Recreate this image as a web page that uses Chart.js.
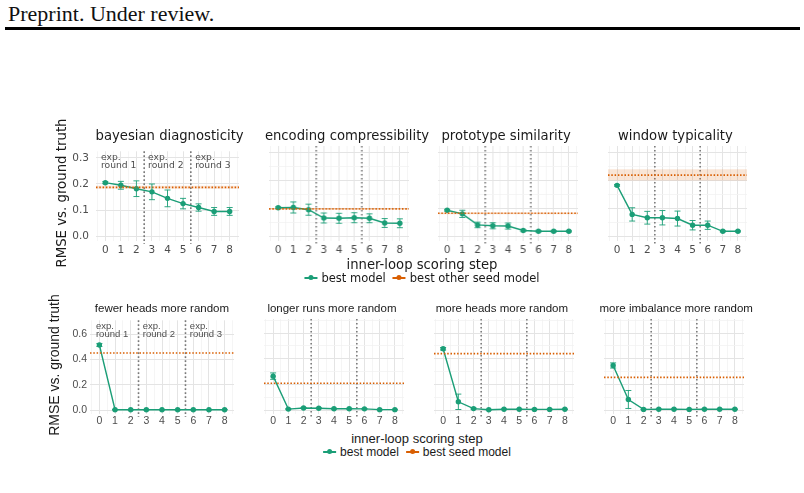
<!DOCTYPE html>
<html>
<head>
<meta charset="utf-8">
<script src="https://cdn.jsdelivr.net/npm/chart.js@4.4.1/dist/chart.umd.min.js"></script>
<style>
  body { margin: 0; background: #fff; }
  #page { position: relative; width: 804px; height: 493px; overflow: hidden; background: #fff; }
  .abs { position: absolute; white-space: nowrap; }
  .header { left: 8px; top: 1px; font: 22px "Liberation Serif", serif; color: #111; }
  .rule { position: absolute; left: 5px; top: 27px; width: 795px; height: 3px; background: #000; }
  .ptitle { text-align: center; color: #1a1a1a; }
  .ytitle { transform: translate(-50%, -50%) rotate(-90deg); color: #1a1a1a; }
  .xtitle { transform: translateX(-50%); color: #1a1a1a; }
  .legend { transform: translateX(-50%); display: flex; align-items: center; color: #1a1a1a; }
  .key { position: relative; display: inline-block; width: 13px; height: 1.5px; margin: 0 4px 0 0; }
  .key::after { content: ""; position: absolute; left: 4px; top: -2px; width: 5px; height: 5px; border-radius: 50%; background: inherit; }
  canvas { position: absolute; }
</style>
</head>
<body>
<div id="page">
  <div class="abs header">Preprint. Under review.</div>
  <div class="rule"></div>
</div>
<script>
// ---- data ----
const steps = [0, 1, 2, 3, 4, 5, 6, 7, 8];
const roundBounds = [2.5, 5.5];
const roundNames = ["round 1", "round 2", "round 3"];

const topTitles = ["bayesian diagnosticity", "encoding compressibility", "prototype similarity", "window typicality"];
const bottomTitles = ["fewer heads more random", "longer runs more random", "more heads more random", "more imbalance more random"];

const bayesianMean = [0.205, 0.195, 0.182, 0.170, 0.145, 0.125, 0.110, 0.095, 0.095];
const bayesianErr = [0.004, 0.015, 0.030, 0.030, 0.032, 0.020, 0.014, 0.015, 0.015];
const encodingMean = [0.102, 0.103, 0.095, 0.065, 0.064, 0.066, 0.064, 0.047, 0.046];
const encodingErr = [0.003, 0.020, 0.020, 0.018, 0.018, 0.018, 0.016, 0.016, 0.016];
const prototypeMean = [0.093, 0.080, 0.040, 0.037, 0.036, 0.020, 0.017, 0.017, 0.017];
const prototypeErr = [0.003, 0.013, 0.010, 0.011, 0.011, 0.003, 0.002, 0.002, 0.002];
const windowMean = [0.183, 0.078, 0.066, 0.066, 0.063, 0.039, 0.039, 0.017, 0.017];
const windowErr = [0.003, 0.024, 0.023, 0.026, 0.027, 0.017, 0.015, 0.002, 0.002];

const fewerHeadsMean = [0.515, 0.004, 0.004, 0.003, 0.004, 0.004, 0.004, 0.004, 0.004];
const fewerHeadsErr = [0.012, 0, 0, 0, 0, 0, 0, 0, 0];
const longerRunsMean = [0.265, 0.008, 0.017, 0.015, 0.011, 0.011, 0.010, 0.004, 0.004];
const longerRunsErr = [0.025, 0.004, 0.004, 0.004, 0.003, 0.003, 0.003, 0.002, 0.002];
const moreHeadsMean = [0.478, 0.065, 0.012, 0.003, 0.007, 0.007, 0.006, 0.006, 0.007];
const moreHeadsErr = [0.010, 0.060, 0.005, 0.002, 0.002, 0.002, 0.002, 0.002, 0.002];
const moreImbalanceMean = [0.348, 0.083, 0.006, 0.007, 0.007, 0.006, 0.007, 0.007, 0.007];
const moreImbalanceErr = [0.020, 0.070, 0.002, 0.002, 0.002, 0.002, 0.002, 0.002, 0.002];

// best (other) seed model: level and its band
const seedLevel = [0.187, 0.098, 0.082, 0.220, 0.452, 0.210, 0.440, 0.255];
const seedLow = [0.182, 0.095, 0.079, 0.200, 0.452, 0.210, 0.440, 0.255];
const seedHigh = [0.193, 0.101, 0.085, 0.241, 0.452, 0.210, 0.440, 0.255];

const topTicks = [0, 0.05, 0.1, 0.15, 0.2, 0.25, 0.3];
const bottomTicks = [0, 0.1, 0.2, 0.3, 0.4, 0.5, 0.6, 0.7];
const topTickLabels = ["0.0", "", "0.1", "", "0.2", "", "0.3"];
const bottomTickLabels = ["0.0", "", "0.2", "", "0.4", "", "0.6", ""];
const xGridTicks = [-0.5, 0, 0.5, 1, 1.5, 2, 2.5, 3, 3.5, 4, 4.5, 5, 5.5, 6, 6.5, 7, 7.5, 8, 8.5];

const GREEN = "#1b9e77";
const ORANGE = "#d95f02";

const page = document.getElementById("page");

function addText(cls, text, style) {
    const d = document.createElement("div");
    d.className = "abs " + cls;
    d.textContent = text;
    Object.assign(d.style, style);
    page.appendChild(d);
    return d;
}

// draws the round separators, error bars and "exp. round" notes
const panelDeco = {
    id: "panelDeco",
    beforeDatasetsDraw(chart) {
        const { ctx, chartArea: a, scales: { x } } = chart;
        ctx.save();
        ctx.strokeStyle = "#7a7a7a";
        ctx.lineWidth = 1.6;
        ctx.setLineDash([1.6, 2.4]);
        roundBounds.forEach(b => {
            const px = x.getPixelForValue(b);
            ctx.beginPath();
            ctx.moveTo(px, a.top);
            ctx.lineTo(px, a.bottom + 3);
            ctx.stroke();
        });
        ctx.restore();
    },
    afterDatasetsDraw(chart, args, opts) {
        const { ctx, scales: { x, y } } = chart;
        const ds = chart.data.datasets[3];
        ctx.save();
        ctx.strokeStyle = "rgba(27,158,119,0.9)";
        ctx.lineWidth = 1;
        ds.data.forEach((p, i) => {
            const e = ds.err[i];
            const px = x.getPixelForValue(p.x);
            const y1 = y.getPixelForValue(p.y - e);
            const y2 = y.getPixelForValue(p.y + e);
            ctx.beginPath();
            ctx.moveTo(px, y1); ctx.lineTo(px, y2);
            ctx.moveTo(px - 3, y1); ctx.lineTo(px + 3, y1);
            ctx.moveTo(px - 3, y2); ctx.lineTo(px + 3, y2);
            ctx.stroke();
        });
        if (opts.notes) {
            ctx.fillStyle = "#4d4d4d";
            ctx.font = opts.noteFont;
            ctx.textAlign = "left";
            ctx.textBaseline = "middle";
            opts.noteX.forEach((nx, i) => {
                const px = x.getPixelForValue(nx);
                ctx.fillText("exp.", px, y.getPixelForValue(opts.noteY[0]));
                ctx.fillText(roundNames[i], px, y.getPixelForValue(opts.noteY[1]));
            });
        }
        ctx.restore();
    }
};

function makePanel(p) {
    const padTop = 8, padRight = 4;
    const canvas = document.createElement("canvas");
    const w = p.yAxisW + p.plotW + padRight;
    const h = padTop + p.plotH + p.xAxisH;
    canvas.width = w; canvas.height = h;
    canvas.style.left = (p.plotLeft - p.yAxisW) + "px";
    canvas.style.top = (p.plotTop - padTop) + "px";
    canvas.style.width = w + "px";
    canvas.style.height = h + "px";
    page.appendChild(canvas);

    const flat = v => [{ x: -0.6, y: v }, { x: 8.6, y: v }];

    new Chart(canvas.getContext("2d"), {
        type: "line",
        data: {
            datasets: [
                { data: flat(seedLow[p.idx]), borderWidth: 0, pointRadius: 0, fill: false },
                { data: flat(seedHigh[p.idx]), borderWidth: 0, pointRadius: 0, fill: "-1",
                  backgroundColor: "rgba(217,95,2,0.16)" },
                { data: flat(seedLevel[p.idx]), borderColor: ORANGE, borderWidth: 1.6,
                  borderDash: [1.5, 1.8], pointRadius: 0, fill: false },
                { data: steps.map((s, i) => ({ x: s, y: p.mean[i] })), err: p.err,
                  borderColor: GREEN, backgroundColor: GREEN, borderWidth: 1.4,
                  pointRadius: 2.7, pointBorderWidth: 0, fill: false }
            ]
        },
        options: {
            responsive: false,
            animation: false,
            devicePixelRatio: 1,
            layout: { padding: { top: padTop, right: padRight, left: 0, bottom: 0 } },
            plugins: {
                legend: { display: false },
                tooltip: { enabled: false },
                panelDeco: { notes: p.notes, noteX: p.noteX, noteY: p.noteY, noteFont: p.noteFont }
            },
            scales: {
                x: {
                    type: "linear", min: -0.6, max: 8.6,
                    afterBuildTicks: s => { s.ticks = xGridTicks.map(v => ({ value: v })); },
                    afterFit: s => { s.height = p.xAxisH; },
                    ticks: {
                        autoSkip: false, maxRotation: 0, padding: p.xPad,
                        color: "#4d4d4d", font: { family: p.family, size: p.tickSize },
                        callback: v => Number.isInteger(v) ? String(v) : ""
                    },
                    grid: {
                        drawTicks: false,
                        color: c => (c.tick && Number.isInteger(c.tick.value)) ? "#e4e4e4" : "#f2f2f2",
                        lineWidth: c => (c.tick && Number.isInteger(c.tick.value)) ? 1 : 0.8
                    },
                    border: { display: false }
                },
                y: {
                    min: p.yMin, max: p.yMax,
                    afterBuildTicks: s => { s.ticks = p.yTicks.map(v => ({ value: v })); },
                    afterFit: s => { s.width = p.yAxisW; },
                    ticks: {
                        display: p.showY, padding: p.yPad,
                        color: "#4d4d4d", font: { family: p.family, size: p.tickSize },
                        callback: (v, i) => p.yTickLabels[i]
                    },
                    grid: {
                        drawTicks: false,
                        color: c => (c.index % 2 === 0) ? "#e4e4e4" : "#f2f2f2",
                        lineWidth: c => (c.index % 2 === 0) ? 1 : 0.8
                    },
                    border: { display: false }
                }
            }
        },
        plugins: [panelDeco]
    });

    // panel strip title
    addText("ptitle", p.title, {
        left: p.plotLeft + "px", width: p.plotW + "px",
        top: (p.titleY - 9) + "px", lineHeight: "18px",
        font: p.titleFont
    });
}

// ---- top row ----
const topMeans = [bayesianMean, encodingMean, prototypeMean, windowMean];
const topErrs = [bayesianErr, encodingErr, prototypeErr, windowErr];
const topLefts = [95.6, 264.9, 434.2, 603.5];
topLefts.forEach((left, i) => {
    makePanel({
        idx: i, title: topTitles[i], mean: topMeans[i], err: topErrs[i],
        plotLeft: left, plotTop: 146, plotW: 143.75, plotH: 95,
        yAxisW: i === 0 ? 30 : 0, xAxisH: 16, xPad: 3, yPad: 7, showY: i === 0,
        yMin: -0.018, yMax: 0.325, yTicks: topTicks, yTickLabels: topTickLabels,
        family: "DejaVu Sans", tickSize: 10.5, titleY: 137,
        titleFont: "13.2px 'DejaVu Sans'",
        notes: i === 0, noteX: [-0.28, 2.75, 5.78], noteY: [0.302, 0.272],
        noteFont: "9.2px 'DejaVu Sans'"
    });
});

// ---- bottom row ----
const bottomMeans = [fewerHeadsMean, longerRunsMean, moreHeadsMean, moreImbalanceMean];
const bottomErrs = [fewerHeadsErr, longerRunsErr, moreHeadsErr, moreImbalanceErr];
const bottomLefts = [89.5, 259.5, 429.5, 599.5];
bottomLefts.forEach((left, i) => {
    makePanel({
        idx: i + 4, title: bottomTitles[i], mean: bottomMeans[i], err: bottomErrs[i],
        plotLeft: left, plotTop: 319, plotW: 144.9, plotH: 95,
        yAxisW: i === 0 ? 30 : 0, xAxisH: 14, xPad: 1, yPad: 3, showY: i === 0,
        yMin: -0.03, yMax: 0.71, yTicks: bottomTicks, yTickLabels: bottomTickLabels,
        family: "Liberation Sans", tickSize: 10.5, titleY: 311,
        titleFont: "11.5px 'Liberation Sans'",
        notes: i === 0, noteX: [-0.22, 2.77, 5.78], noteY: [0.662, 0.6],
        noteFont: "9.5px 'Liberation Sans'"
    });
});

// ---- shared axis titles and legends ----
addText("ytitle", "RMSE vs. ground truth", { left: "61px", top: "193px", font: "13.3px 'DejaVu Sans'" });
addText("ytitle", "RMSE vs. ground truth", { left: "54px", top: "365px", font: "14px 'Liberation Sans'" });
addText("xtitle", "inner-loop scoring step", { left: "422px", top: "257px", font: "13.2px 'DejaVu Sans'" });
addText("xtitle", "inner-loop scoring step", { left: "417px", top: "431px", font: "13px 'Liberation Sans'" });

function addLegend(x, y, font, labels) {
    const d = document.createElement("div");
    d.className = "abs legend";
    d.style.left = x + "px";
    d.style.top = y + "px";
    d.style.font = font;
    d.style.lineHeight = "14px";
    [GREEN, ORANGE].forEach((c, i) => {
        const k = document.createElement("span");
        k.className = "key";
        k.style.background = c;
        k.style.marginLeft = i ? "7px" : "0";
        d.appendChild(k);
        const t = document.createElement("span");
        t.textContent = labels[i];
        d.appendChild(t);
    });
    page.appendChild(d);
}
addLegend(422, 271, "11.5px 'DejaVu Sans'", ["best model", "best other seed model"]);
addLegend(417, 445, "12px 'Liberation Sans'", ["best model", "best seed model"]);
</script>
</body>
</html>
